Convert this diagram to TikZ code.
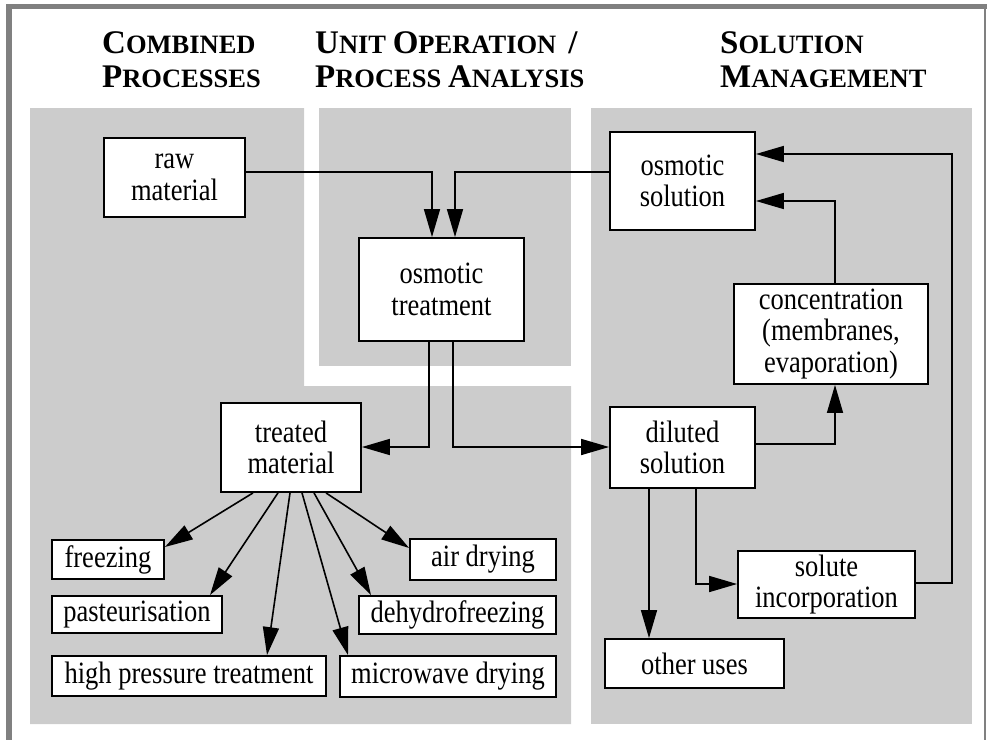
\documentclass[tikz,border=0pt]{standalone}
\usepackage{fontspec}
\setmainfont{Liberation Serif}
\newfontfamily\boxfont{Liberation Serif}[FakeStretch=0.855]
\usetikzlibrary{arrows.meta}
\definecolor{panelgray}{HTML}{CCCCCC}
\definecolor{framegray}{HTML}{808080}
\newcommand{\fsc}[2]{{\fontsize{33}{33}\selectfont #1}{\fontsize{26.5}{26.5}\selectfont #2}}
\tikzset{
  box/.style={draw=black, line width=1.8pt, fill=white, inner sep=0pt, align=center,
    font=\boxfont\fontsize{31}{31.5}\selectfont},
  conn/.style={line width=1.6pt, -{Triangle[length=28pt,width=16pt]}},
  title/.style={anchor=base west, inner sep=0pt, font=\bfseries}
}
\begin{document}
\begin{tikzpicture}[x=1pt,y=-1pt]
\useasboundingbox (0,0) rectangle (987,740);
% frame
\fill[framegray] (6,4) rectangle (987,9);
\fill[framegray] (6,4) rectangle (12,740);
\draw[framegray, line width=1.5pt] (985,9) -- (985,740);
% panels
\fill[panelgray] (30,108) -- (304,108) -- (304,386) -- (571,386) -- (571,724) -- (30,724) -- cycle;
\fill[panelgray] (319,108) rectangle (571,366);
\fill[panelgray] (591,108) rectangle (972,724);
% titles
\node[title] (t1a) at (102,53) {\fsc{C}{OMBINED}};
\node[title] (t1b) at (102,87) {\fsc{P}{ROCESSES}};
\node[title] (t2a) at (315,53) {\fsc{U}{NIT\ }\fsc{O}{PERATION}\hspace{12pt}\fsc{/}{}};
\node[title] (t2b) at (315,87) {\fsc{P}{ROCESS\ }\fsc{A}{NALYSIS}};
\node[title] (t3a) at (720,53) {\fsc{S}{OLUTION}};
\node[title] (t3b) at (720,87) {\fsc{M}{ANAGEMENT}};
% boxes
\node[box, minimum width=141pt, minimum height=79pt] (raw) at (174.5,177.5) {raw\\material};
\node[box, minimum width=165pt, minimum height=103pt] (ot) at (441.5,289.5) {osmotic\\treatment};
\node[box, minimum width=145pt, minimum height=98pt] (os) at (682.5,181) {osmotic\\solution};
\node[box, minimum width=194pt, minimum height=100pt] (conc) at (831,334) {concentration\\(membranes,\\evaporation)};
\node[box, minimum width=140pt, minimum height=89pt] (tm) at (291,447.5) {treated\\material};
\node[box, minimum width=145pt, minimum height=81pt] (ds) at (682.5,447.5) {diluted\\solution};
\node[box, minimum width=177pt, minimum height=67pt] (si) at (826.5,584.5) {solute\\incorporation};
\node[box, minimum width=179pt, minimum height=49pt] (ou) at (694.5,663.5) {other uses};
\node[box, minimum width=112pt, minimum height=39pt] (fr) at (108,559.5) {freezing};
\node[box, minimum width=170pt, minimum height=37pt] (pa) at (137,614.5) {pasteurisation};
\node[box, minimum width=274pt, minimum height=40pt] (hp) at (189,676) {high pressure treatment};
\node[box, minimum width=146pt, minimum height=41pt] (ad) at (483,559.5) {air drying};
\node[box, minimum width=197pt, minimum height=38pt] (dh) at (457.5,615) {dehydrofreezing};
\node[box, minimum width=216pt, minimum height=41pt] (mw) at (448,676.5) {microwave drying};
% connectors
\draw[conn] (raw.east |- 0,172) -| (ot.north -| 432,0);
\draw[conn] (os.west |- 0,172) -| (ot.north -| 455,0);
\draw[conn] (ot.south -| 429,0) |- (tm.east |- 0,447);
\draw[conn] (ot.south -| 453,0) |- (ds.west |- 0,447);
\draw[conn] (ds.east |- 0,444) -| (conc.south -| 835,0);
\draw[conn] (conc.north -| 835,0) |- (os.east |- 0,201);
\draw[conn] (si.east |- 0,583) -| (952,154) -- (os.east |- 0,154);
\draw[conn] (ds.south -| 696,0) |- (si.west |- 0,584);
\draw[conn] (ds.south -| 649,0) -- (ou.north -| 649,0);
% fan from treated material
\draw[conn] (tm.south -| 253,0) -- (fr.east |- 0,547);
\draw[conn] (tm.south -| 278,0) -- (pa.north -| 210,0);
\draw[conn] (tm.south -| 290,0) -- (hp.north -| 267,0);
\draw[conn] (tm.south -| 302,0) -- (mw.north -| 348,0);
\draw[conn] (tm.south -| 314,0) -- (dh.north -| 371,0);
\draw[conn] (tm.south -| 326,0) -- (ad.west |- 0,548);
\end{tikzpicture}
\end{document}
